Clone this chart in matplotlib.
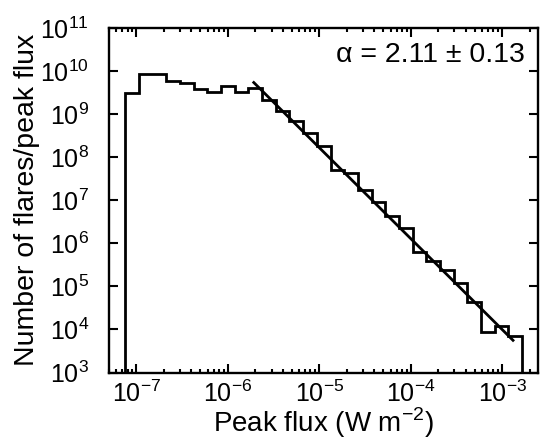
import numpy as np
import matplotlib
matplotlib.use("Agg")
from matplotlib import pyplot as plt
from matplotlib.ticker import LogLocator, NullLocator

plt.rcParams['font.family'] = ['Liberation Sans', 'DejaVu Sans']
plt.rcParams['mathtext.fontset'] = 'custom'
plt.rcParams['mathtext.rm'] = 'Liberation Sans'

# histogram: log10 of bin edges (W m^-2) and log10 of counts per peak flux
log_edge_lo = -7.12
log_edge_hi = -2.785
log_counts = [9.49, 9.93, 9.93, 9.77, 9.73, 9.58, 9.52, 9.65, 9.51, 9.60,
              9.33, 9.06, 8.83, 8.56, 8.26, 7.71, 7.64, 7.24, 6.95, 6.64,
              6.35, 5.80, 5.58, 5.37, 5.09, 4.64, 3.94, 4.07, 3.86]

# power-law fit line end points
fit_x = [1.92e-6, 1.31e-3]
fit_y = [5.4e9, 5.6e3]
alpha_txt = 'α = 2.11 ± 0.13'

edges = np.logspace(log_edge_lo, log_edge_hi, len(log_counts) + 1)
counts = 10.0 ** np.array(log_counts)

fig = plt.figure(figsize=(5.43, 4.43), dpi=100)
ax = fig.add_axes([0.200, 0.159, 0.790, 0.778])

ax.stairs(counts, edges, baseline=1.0, color='k', lw=2.0)
ax.plot(fit_x, fit_y, color='k', lw=2.0)

ax.set_xscale('log')
ax.set_yscale('log')
ax.set_xlim(4.97e-8, 2.43e-3)
ax.set_ylim(1e3, 1e11)

ax.xaxis.set_major_locator(LogLocator(base=10, numticks=20))
ax.xaxis.set_minor_locator(LogLocator(base=10, subs=np.arange(2, 10), numticks=20))
ax.yaxis.set_major_locator(LogLocator(base=10, numticks=20))
ax.yaxis.set_minor_locator(NullLocator())

ax.tick_params(which='both', direction='in', top=True, right=True, width=1.5)
ax.tick_params(which='major', length=6.5, labelsize=18)
ax.tick_params(axis='x', which='major', pad=6)
ax.tick_params(axis='y', which='major', pad=14)
ax.tick_params(which='minor', length=2.8)
for s in ax.spines.values():
    s.set_linewidth(1.7)

ax.set_xlabel(r'Peak flux (W m$^{-2}$)', fontsize=20, labelpad=-1)
ax.set_ylabel('Number of flares/peak flux', fontsize=20.5, labelpad=0)

ax.text(0.970, 0.901, alpha_txt, transform=ax.transAxes, ha='right', va='baseline', fontsize=20.5)

fig.savefig('out.png', dpi=100)
